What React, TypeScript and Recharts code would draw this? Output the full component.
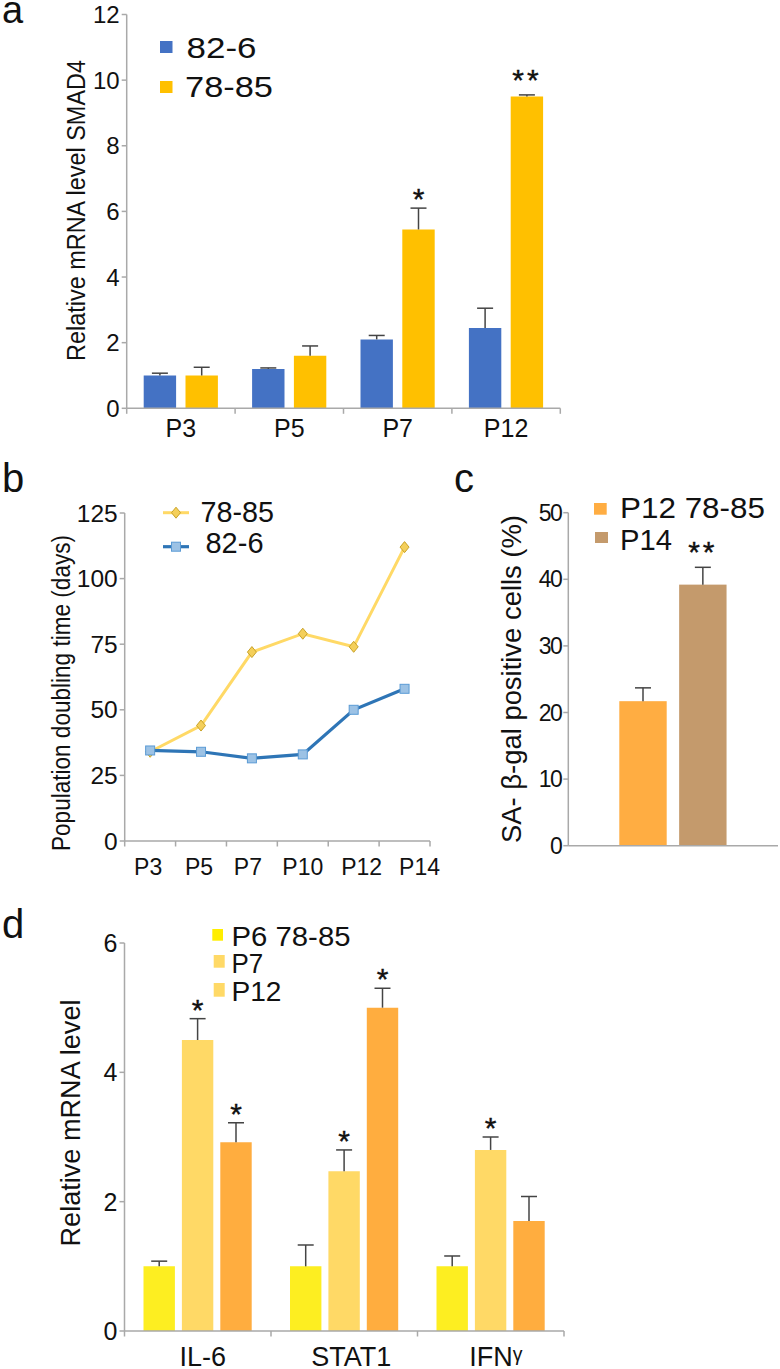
import { Bar, BarChart, ComposedChart, ErrorBar, Line, XAxis, YAxis } from 'recharts'

const FONT = '"Liberation Sans", Arial, sans-serif'
const AXIS = '#a9a9a9'
const ERR = '#444444'

// panel a
const catsA = ['P3', 'P5', 'P7', 'P12']
const a826 = [1.0, 1.2, 2.1, 2.45]
const a826Err = [0.07, 0.03, 0.12, 0.6]
const a7885 = [1.0, 1.6, 5.45, 9.5]
const a7885Err = [0.25, 0.3, 0.65, 0.05]
const a7885Stars = ['', '', '*', '**']
const ticksA = [0, 2, 4, 6, 8, 10, 12]

// panel b
const catsB = ['P3', 'P5', 'P7', 'P10', 'P12', 'P14']
const b7885 = [34, 44, 72, 79, 74, 112]
const b826 = [34.5, 34, 31.5, 33, 50, 58]
const ticksB = [0, 25, 50, 75, 100, 125]
const labelShiftB = [-2, -2, -4, 0, 8, 15]

// panel c
const catsC = ['P12 78-85', 'P14']
const cValues = [21.7, 39.2]
const cErr = [2, 2.6]
const cStars = ['', '**']
const ticksC = [0, 10, 20, 30, 40, 50]

// panel d
const catsD = ['IL-6', 'STAT1', 'IFNγ']
const dP6 = [1, 1, 1]
const dP6Err = [0.08, 0.33, 0.16]
const dP7 = [4.5, 2.47, 2.8]
const dP7Err = [0.33, 0.33, 0.2]
const dP7Stars = ['*', '*', '*']
const dP12 = [2.92, 5, 1.7]
const dP12Err = [0.3, 0.3, 0.38]
const dP12Stars = ['*', '*', '']
const ticksD = [0, 2, 4, 6]
const labelShiftD = [5, 7, 5]

const dataA = catsA.map((name, i) => ({
  name,
  s826: a826[i],
  e826: [0, a826Err[i]],
  s7885: a7885[i],
  e7885: [0, a7885Err[i]],
}))
const dataB = catsB.map((name, i) => ({ name, s7885: b7885[i], s826: b826[i] }))
const dataC = catsC.map((name, i) => ({ name, value: cValues[i], err: [0, cErr[i]] }))
const dataD = catsD.map((name, i) => ({
  name,
  p6: dP6[i],
  e6: [0, dP6Err[i]],
  p7: dP7[i],
  e7: [0, dP7Err[i]],
  p12: dP12[i],
  e12: [0, dP12Err[i]],
}))

// x axis ticks sit on the band edges, not the band centres
function bandTick(band: number, fontSize: number, dy: number, count: number, shift: number[] = []) {
  return (props: any) => {
    const { x, y, payload, index } = props
    const label: string = payload.value
    const greek = label.endsWith('γ')
    return (
      <g>
        <line x1={x - band / 2} x2={x - band / 2} y1={y - 8} y2={y - 2.5} stroke={AXIS} strokeWidth={1.5} />
        {index === count - 1 && (
          <line x1={x + band / 2} x2={x + band / 2} y1={y - 8} y2={y - 2.5} stroke={AXIS} strokeWidth={1.5} />
        )}
        <text x={x + (shift[index] || 0)} y={y + dy} textAnchor="middle" fontSize={fontSize} fontFamily={FONT} fill="#111">
          {greek ? label.slice(0, -1) : label}
          {greek && (
            <tspan fontSize={fontSize * 0.72} dy={-5}>
              γ
            </tspan>
          )}
        </text>
      </g>
    )
  }
}

// asterisks above the error bar of a bar
function stars(marks: string[], errs: number[], pxPerUnit: number) {
  return (props: any) => {
    const { x, y, width, index } = props
    if (!marks[index]) return null
    const double = marks[index].length > 1
    return (
      <text
        x={x + width / 2}
        y={y - errs[index] * pxPerUnit + (double ? -5 : 1)}
        textAnchor="middle"
        fontSize={30}
        fontFamily={FONT}
        fill="#111"
        stroke="#111"
        strokeWidth={0.4}
        letterSpacing={double ? 3 : 0}
      >
        {marks[index]}
      </text>
    )
  }
}

const Diamond = (props: any) => {
  const { cx, cy } = props
  return (
    <polygon
      points={`${cx},${cy - 5.5} ${cx + 4.5},${cy} ${cx},${cy + 5.5} ${cx - 4.5},${cy}`}
      fill="#f4cf5a"
      stroke="#c9a227"
      strokeWidth={1}
    />
  )
}

const Square = (props: any) => {
  const { cx, cy } = props
  return <rect x={cx - 4.5} y={cy - 4.5} width={9} height={9} fill="#9cc2e5" stroke="#5b9bd5" strokeWidth={1} />
}

const layer = { position: 'absolute', left: 0, top: 0 } as const
const W = 780
const H = 1369
const axisLine = { stroke: AXIS, strokeWidth: 1.5 }

function axisTick(size: number, spacing = 0) {
  return { fontSize: size, fontFamily: FONT, fill: '#111', letterSpacing: spacing }
}

function Swatch({ x, y, w, h, color }: { x: number; y: number; w: number; h: number; color: string }) {
  return <rect x={x} y={y} width={w} height={h} fill={color} />
}

function Label({ x, y, size, len, children }: { x: number; y: number; size: number; len?: number; children: any }) {
  return (
    <text x={x} y={y} fontSize={size} fontFamily={FONT} fill="#111" textLength={len} lengthAdjust={len ? 'spacingAndGlyphs' : undefined}>
      {children}
    </text>
  )
}

function VLabel({ x, y, size, len, children }: { x: number; y: number; size: number; len: number; children: any }) {
  return (
    <text
      transform={`translate(${x},${y}) rotate(-90)`}
      textAnchor="middle"
      fontSize={size}
      fontFamily={FONT}
      fill="#111"
      textLength={len}
      lengthAdjust="spacingAndGlyphs"
    >
      {children}
    </text>
  )
}

export default function App() {
  return (
    <div style={{ position: 'absolute', left: 0, top: 0, width: W, height: H, background: '#fff', overflow: 'hidden' }}>
      <style>{`.recharts-errorBar line:last-child { display: none; }`}</style>

      {/* a */}
      <div style={layer}>
        <BarChart width={W} height={H} data={dataA} margin={{ top: 14.5, left: 66.7, right: 219.7, bottom: 920.7 }} barSize={32.4} barGap={9.4}>
          <XAxis dataKey="name" height={40} interval={0} axisLine={axisLine} tickLine={false} tick={bandTick(108.4, 25, 20.4, 4)} />
          <YAxis width={60} domain={[0, 12]} ticks={ticksA} interval={0} axisLine={axisLine} tickLine={axisLine} tickSize={5} tick={axisTick(24)} />
          <Bar dataKey="s826" fill="#4472c4" isAnimationActive={false}>
            <ErrorBar dataKey="e826" direction="y" width={8} stroke={ERR} strokeWidth={1.5} isAnimationActive={false} />
          </Bar>
          <Bar dataKey="s7885" fill="#ffc000" isAnimationActive={false} label={stars(a7885Stars, a7885Err, 394 / 12)}>
            <ErrorBar dataKey="e7885" direction="y" width={8} stroke={ERR} strokeWidth={1.5} isAnimationActive={false} />
          </Bar>
        </BarChart>
      </div>

      {/* b */}
      <div style={layer}>
        <ComposedChart width={W} height={H} data={dataB} margin={{ top: 513, left: 64.7, right: 350, bottom: 488 }}>
          <XAxis dataKey="name" scale="band" height={40} interval={0} axisLine={axisLine} tickLine={false} tick={bandTick(50.9, 23, 26, 6, labelShiftB)} />
          <YAxis width={60} domain={[0, 125]} ticks={ticksB} interval={0} axisLine={axisLine} tickLine={axisLine} tickSize={5} tick={axisTick(24.5)} />
          <Line type="linear" dataKey="s7885" stroke="#ffd966" strokeWidth={3} dot={<Diamond />} isAnimationActive={false} />
          <Line type="linear" dataKey="s826" stroke="#2e75b6" strokeWidth={3.2} dot={<Square />} isAnimationActive={false} />
        </ComposedChart>
      </div>

      {/* c */}
      <div style={layer}>
        <BarChart width={W} height={H} data={dataC} margin={{ top: 512.7, left: 508.3, right: 2, bottom: 483.3 }} barSize={47.4}>
          <XAxis dataKey="name" height={40} padding={{ left: 45, right: 45 }} axisLine={axisLine} tickLine={false} tick={false} />
          <YAxis width={60} domain={[0, 50]} ticks={ticksC} interval={0} axisLine={axisLine} tickLine={axisLine} tickSize={5} tick={axisTick(23, -1.5)} />
          <Bar
            dataKey="value"
            isAnimationActive={false}
            label={stars(cStars, cErr, 333 / 50)}
            shape={(p: any) => <rect x={p.x} y={p.y} width={p.width} height={p.height} fill={p.index === 0 ? '#ffad42' : '#c49a6c'} />}
          >
            <ErrorBar dataKey="err" direction="y" width={8} stroke={ERR} strokeWidth={1.5} isAnimationActive={false} />
          </Bar>
        </BarChart>
      </div>

      {/* d */}
      <div style={layer}>
        <BarChart width={W} height={H} data={dataD} margin={{ top: 943, left: 64.5, right: 216, bottom: -2 }} barSize={31.4} barGap={7}>
          <XAxis dataKey="name" height={40} interval={0} axisLine={axisLine} tickLine={false} tick={bandTick(146.5, 27, 27, 3, labelShiftD)} />
          <YAxis width={60} domain={[0, 6]} ticks={ticksD} interval={0} axisLine={axisLine} tickLine={axisLine} tickSize={5} tick={axisTick(25)} />
          <Bar dataKey="p6" fill="#fdee21" isAnimationActive={false}>
            <ErrorBar dataKey="e6" direction="y" width={8} stroke={ERR} strokeWidth={1.5} isAnimationActive={false} />
          </Bar>
          <Bar dataKey="p7" fill="#ffd966" isAnimationActive={false} label={stars(dP7Stars, dP7Err, 388 / 6)}>
            <ErrorBar dataKey="e7" direction="y" width={8} stroke={ERR} strokeWidth={1.5} isAnimationActive={false} />
          </Bar>
          <Bar dataKey="p12" fill="#ffad3f" isAnimationActive={false} label={stars(dP12Stars, dP12Err, 388 / 6)}>
            <ErrorBar dataKey="e12" direction="y" width={8} stroke={ERR} strokeWidth={1.5} isAnimationActive={false} />
          </Bar>
        </BarChart>
      </div>

      {/* panel letters, axis titles and legends */}
      <svg width={W} height={H} style={{ ...layer, pointerEvents: 'none' }}>
        <Label x={2} y={23} size={38}>a</Label>
        <Label x={2} y={492} size={40}>b</Label>
        <Label x={454} y={492} size={40}>c</Label>
        <Label x={2} y={938} size={40}>d</Label>

        <VLabel x={85} y={210.5} size={25} len={301}>Relative mRNA level SMAD4</VLabel>
        <VLabel x={70} y={693} size={25} len={316}>Population doubling time (days)</VLabel>
        <VLabel x={521} y={679} size={27.3} len={328}>SA- β-gal positive cells (%)</VLabel>
        <VLabel x={80} y={1123} size={28} len={247}>Relative mRNA level</VLabel>

        <Swatch x={160} y={41} w={12.5} h={12} color="#4472c4" />
        <Swatch x={160} y={81} w={12.5} h={12} color="#ffc000" />
        <Label x={186.5} y={57.7} size={29.5} len={70}>82-6</Label>
        <Label x={185} y={96.7} size={29.5} len={88}>78-85</Label>

        <line x1={163} x2={189} y1={512.7} y2={512.7} stroke="#ffd966" strokeWidth={3} />
        <Diamond cx={176} cy={512.7} />
        <line x1={163} x2={189} y1={546.7} y2={546.7} stroke="#2e75b6" strokeWidth={3.2} />
        <Square cx={176} cy={546.7} />
        <Label x={200.5} y={521.7} size={29} len={73.5}>78-85</Label>
        <Label x={205.5} y={552.7} size={29} len={58}>82-6</Label>

        <Swatch x={594} y={503} w={12.7} h={11.7} color="#ffad42" />
        <Swatch x={595} y={532} w={13} h={11} color="#c49a6c" />
        <Label x={620} y={518} size={30} len={145}>P12 78-85</Label>
        <Label x={620} y={550} size={30} len={52}>P14</Label>

        <Swatch x={212.3} y={929} w={10.7} h={11.7} color="#ffee00" />
        <Swatch x={213.7} y={955} w={11} h={12.7} color="#ffd966" />
        <Swatch x={213.7} y={983} w={11} h={13.7} color="#ffd966" />
        <Label x={231.5} y={946} size={28} len={119}>P6 78-85</Label>
        <Label x={231.5} y={973.3} size={28} len={31.7}>P7</Label>
        <Label x={231.5} y={1001} size={28} len={50}>P12</Label>
      </svg>
    </div>
  )
}
